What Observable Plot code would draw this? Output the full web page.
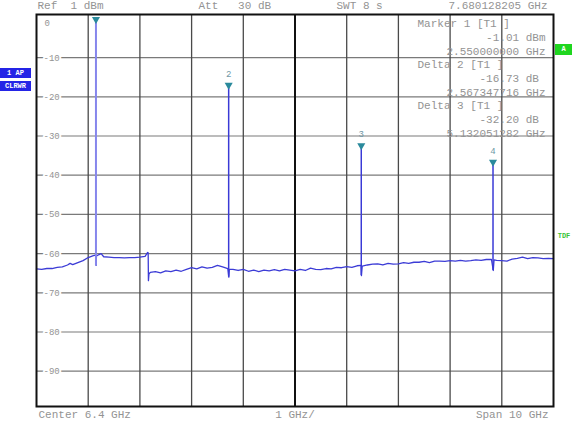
<!DOCTYPE html>
<html>
<head>
<meta charset="utf-8">
<script src="https://cdn.jsdelivr.net/npm/d3@7"></script>
<script src="https://cdn.jsdelivr.net/npm/@observablehq/plot@0.6"></script>
<style>
  html, body { margin: 0; padding: 0; background: white; }
  #wrap { position: relative; width: 572px; height: 421px; overflow: hidden; }
  .box { position: absolute; font-family: "Liberation Mono", monospace; font-size: 7px; line-height: 10px; color: white; font-weight: bold; text-align: center; }
</style>
</head>
<body>
<div id="wrap"></div>
<script>
// ---- data ----
const gridFreqs = [2.4, 3.4, 4.4, 5.4, 7.4, 8.4, 9.4, 10.4];
const centerFreq = [6.4];
const gridLevels = [-10, -20, -30, -40, -50, -60, -70, -80, -90];
const yTickLabels = [-10, -20, -30, -40, -50, -60, -70, -80, -90];

const traceFreqs = [
  1.40, 1.50, 1.60, 1.70, 1.80, 1.90, 2.00, 2.05, 2.10, 2.20, 2.30, 2.40, 2.50, 2.545, 2.552, 2.56,
  2.60, 2.65, 2.70, 2.80, 2.90, 3.00, 3.10, 3.20, 3.30, 3.40, 3.50, 3.55, 3.56, 3.565, 3.575, 3.60,
  3.70, 3.80, 3.90, 4.00, 4.10, 4.20, 4.30, 4.40, 4.50, 4.60, 4.70, 4.80, 4.90, 5.00, 5.10, 5.12,
  5.13, 5.20, 5.30, 5.40, 5.50, 5.60, 5.70, 5.80, 5.90, 6.00, 6.10, 6.20, 6.30, 6.40, 6.50, 6.60,
  6.70, 6.80, 6.90, 7.00, 7.10, 7.20, 7.30, 7.40, 7.50, 7.60, 7.68, 7.685, 7.70, 7.80, 7.90, 8.00,
  8.10, 8.20, 8.30, 8.40, 8.50, 8.60, 8.70, 8.80, 8.90, 9.00, 9.10, 9.20, 9.30, 9.40, 9.50, 9.60,
  9.70, 9.80, 9.90, 10.00, 10.10, 10.20, 10.235, 10.25, 10.30, 10.40, 10.50, 10.60, 10.70, 10.80,
  10.90, 11.00, 11.10, 11.20, 11.30, 11.40
];
const traceLevels = [
  -63.9, -64.0, -63.8, -63.8, -63.5, -63.4, -62.9, -62.5, -62.8, -62.3, -61.8, -61.0, -60.5, -60.4, -63.0, -60.6,
  -60.3, -60.0, -60.8, -60.9, -61.0, -61.0, -61.1, -61.0, -61.0, -60.9, -60.7, -59.7, -59.8, -66.9, -65.2, -64.8,
  -64.6, -64.9, -64.4, -64.6, -64.2, -64.5, -64.0, -63.6, -63.9, -63.4, -63.7, -63.5, -63.0, -63.4, -63.8, -66.0,
  -64.0, -64.0, -64.3, -64.0, -64.5, -64.2, -64.6, -64.2, -64.4, -64.1, -64.4, -64.0, -64.2, -64.4, -64.0, -64.3,
  -63.7, -64.0, -64.1, -63.8, -63.9, -63.5, -63.6, -63.3, -63.5, -63.1, -63.0, -65.6, -63.2, -62.9, -62.7, -62.6,
  -62.9, -62.5, -62.7, -62.6, -62.3, -62.5, -62.2, -62.2, -62.0, -62.3, -61.9, -61.9, -62.0, -61.8, -61.9, -61.7,
  -61.9, -61.8, -61.6, -61.7, -61.5, -61.5, -64.3, -61.6, -61.7, -61.8, -61.9, -61.4, -61.2, -60.9,
  -61.3, -61.0, -61.1, -61.3, -61.2, -61.3
];

const markerNames = ["1", "2", "3", "4"];
const markerFreqs = [2.55, 5.117, 7.682, 10.230];
const markerLevels = [-1.01, -17.74, -33.21, -37.4];
const markerBases = [-63.0, -66.0, -65.6, -64.3];

const headerLeft = "Ref\u00a0\u00a01\u00a0dBm";
const headerAtt = "Att\u00a0\u00a0\u00a030\u00a0dB";
const headerSwt = "SWT\u00a08\u00a0s";
const headerRight = "7.680128205\u00a0GHz";
const infoTitles = ["Marker\u00a01\u00a0[T1\u00a0]", "Delta\u00a02\u00a0[T1\u00a0]", "Delta\u00a03\u00a0[T1\u00a0]"];
const infoValues = [
  ["-1.01\u00a0dBm", "2.550000000\u00a0GHz"],
  ["-16.73\u00a0dB\u00a0", "2.567347716\u00a0GHz"],
  ["-32.20\u00a0dB\u00a0", "5.132051282\u00a0GHz"]
];
const footerLeft = "Center\u00a06.4\u00a0GHz";
const footerMid = "1\u00a0GHz/";
const footerRight = "Span\u00a010\u00a0GHz";

// ---- build ----
const trace = traceFreqs.map((f, i) => ({f, v: traceLevels[i]}));
const markers = markerNames.map((n, i) => ({n, f: markerFreqs[i], v: markerLevels[i], b: markerBases[i]}));

const txtColor = "#939393";
const font = "Liberation Mono, DejaVu Sans Mono, monospace";
const fs = 11;
const T = (opts) => ({fill: txtColor, fontSize: fs, lineAnchor: "middle", ...opts});

const infoMarks = [];
infoTitles.forEach((t, i) => {
  infoMarks.push(Plot.text([t], T({frameAnchor: "top-right", dx: -136, dy: 9 + 41 * i, textAnchor: "start"})));
  infoValues[i].forEach((v, j) => {
    infoMarks.push(Plot.text([v], T({frameAnchor: "top-right", dx: -8, dy: 23 + 14 * j + 41 * i, textAnchor: "end"})));
  });
});

const chart = Plot.plot({
  width: 572,
  height: 421,
  marginLeft: 36,
  marginRight: 19,
  marginTop: 14,
  marginBottom: 15,
  x: {domain: [1.4, 11.4], axis: null},
  y: {domain: [-99, 1], axis: null},
  style: {fontFamily: font, background: "white", overflow: "visible"},
  marks: [
    Plot.ruleY(gridLevels, {stroke: "#7a7a7a", strokeWidth: 1.2}),
    Plot.ruleX(gridFreqs, {stroke: "#4a4a4a", strokeWidth: 1.3}),
    Plot.ruleX(centerFreq, {stroke: "#111", strokeWidth: 2}),
    Plot.text(yTickLabels, {x: 1.4, y: d => d, text: d => String(d), dx: 7, textAnchor: "start", fill: txtColor, stroke: "white", strokeWidth: 4, fontSize: 9}),
    Plot.text(["0"], {frameAnchor: "top-left", dx: 8, dy: 9, textAnchor: "start", lineAnchor: "middle", fill: txtColor, fontSize: 9}),
    ...infoMarks,
    Plot.line(trace, {x: "f", y: "v", stroke: "#3c3cd6", strokeWidth: 1.3}),
    Plot.ruleX(markers.slice(0, 1), {x: "f", y1: "b", y2: "v", stroke: "#8686ec", strokeWidth: 2}),
    Plot.ruleX(markers.slice(1), {x: "f", y1: "b", y2: "v", stroke: "#3a3ad6", strokeWidth: 1.5}),
    Plot.dot(markers, {x: "f", y: "v", symbol: "triangle", rotate: 180, r: 3, fill: "#2a8a9c", dy: -3}),
    Plot.text(markers.slice(1), {x: "f", y: "v", text: "n", dy: -14, fill: "#6f98a6", fontSize: 9}),
    Plot.frame({stroke: "#111", strokeWidth: 2}),
    Plot.text([headerLeft], T({frameAnchor: "top-left", dx: 1, dy: -9, textAnchor: "start"})),
    Plot.text([headerAtt], T({frameAnchor: "top-left", dx: 162, dy: -9, textAnchor: "start"})),
    Plot.text([headerSwt], T({frameAnchor: "top-left", dx: 300, dy: -9, textAnchor: "start"})),
    Plot.text([headerRight], T({frameAnchor: "top-right", dx: -6, dy: -9, textAnchor: "end"})),
    Plot.text([footerLeft], T({frameAnchor: "bottom-left", dx: 2, dy: 8, textAnchor: "start"})),
    Plot.text([footerMid], T({frameAnchor: "bottom", dx: 0, dy: 8})),
    Plot.text([footerRight], T({frameAnchor: "bottom-right", dx: -5, dy: 8, textAnchor: "end"}))
  ]
});

const wrap = document.getElementById("wrap");
wrap.appendChild(chart);

const boxes = [
  {t: "1 AP", x: 0, y: 68, w: 31, h: 10, bg: "#2424e6", c: "white"},
  {t: "CLRWR", x: 0, y: 81, w: 31, h: 10, bg: "#2424e6", c: "white"},
  {t: "A", x: 555, y: 44, w: 17, h: 11, bg: "#1fd61f", c: "white"},
  {t: "TDF", x: 556, y: 231, w: 16, h: 10, bg: "transparent", c: "#3ac43a"}
];
for (const b of boxes) {
  const d = document.createElement("div");
  d.className = "box";
  d.textContent = b.t;
  Object.assign(d.style, {left: b.x + "px", top: b.y + "px", width: b.w + "px", height: b.h + "px", lineHeight: b.h + "px", background: b.bg, color: b.c});
  wrap.appendChild(d);
}
</script>
</body>
</html>
